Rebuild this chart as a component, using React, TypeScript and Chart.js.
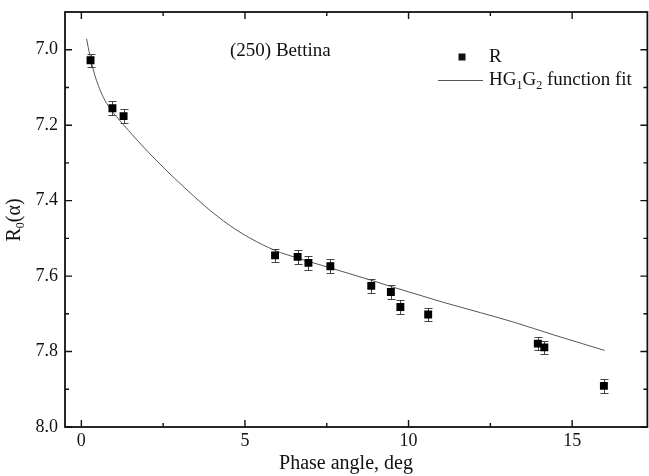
import React, { useEffect, useRef } from 'react';
import { Chart, registerables } from 'chart.js';

Chart.register(...registerables);

// Observed reduced magnitudes R0(alpha)
const obsPhase = [0.28, 0.95, 1.29, 5.92, 6.61, 6.94, 7.61, 8.86, 9.46, 9.75, 10.6, 13.95, 14.15, 15.97];
const obsR = [7.028, 7.155, 7.176, 7.545, 7.549, 7.565, 7.574, 7.626, 7.642, 7.682, 7.702, 7.779, 7.789, 7.891];
const obsErr = [0.017, 0.018, 0.018, 0.018, 0.018, 0.018, 0.018, 0.018, 0.018, 0.018, 0.018, 0.018, 0.018, 0.018];

// HG1G2 function fit curve
const fitPhase = [0.16, 0.26, 0.4, 0.52, 0.67, 0.88, 1.13, 1.44, 1.9, 2.55, 3.16, 3.77, 4.54, 5.15, 5.92, 6.6, 7.6, 8.82, 9.44, 10.2, 11.0, 12.2, 13.21, 14.44, 15.99];
const fitR = [6.971, 7.015, 7.064, 7.095, 7.126, 7.156, 7.183, 7.214, 7.258, 7.316, 7.366, 7.414, 7.466, 7.499, 7.532, 7.552, 7.578, 7.61, 7.627, 7.647, 7.668, 7.697, 7.722, 7.756, 7.797];

const xTicks = [0, 5, 10, 15];
const xMinorTicks = [2.5, 7.5, 12.5];
const yTicks = [7.0, 7.2, 7.4, 7.6, 7.8, 8.0];
const yMinorTicks = [7.1, 7.3, 7.5, 7.7, 7.9];

const FONT = '"Liberation Serif", "Times New Roman", serif';

function drawParts(ctx: CanvasRenderingContext2D, parts: [string, boolean][], x: number, y: number, size: number) {
  let cx = x;
  for (const [t, sub] of parts) {
    const fs = sub ? Math.round(size * 0.62) : size;
    ctx.font = `${fs}px ${FONT}`;
    ctx.fillText(t, cx, sub ? y + size * 0.3 : y);
    cx += ctx.measureText(t).width;
  }
}

const overlay = {
  id: 'overlay',
  beforeDatasetsDraw(chart: any) {
    const { ctx, scales } = chart;
    const x = scales.x, y = scales.y;
    ctx.save();
    ctx.strokeStyle = '#444';
    ctx.lineWidth = 1;
    obsPhase.forEach((p, i) => {
      const px = Math.round(x.getPixelForValue(p)) + 0.5;
      const y1 = Math.round(y.getPixelForValue(obsR[i] - obsErr[i])) + 0.5;
      const y2 = Math.round(y.getPixelForValue(obsR[i] + obsErr[i])) + 0.5;
      ctx.beginPath();
      ctx.moveTo(px, y1); ctx.lineTo(px, y2);
      ctx.moveTo(px - 4, y1); ctx.lineTo(px + 4, y1);
      ctx.moveTo(px - 4, y2); ctx.lineTo(px + 4, y2);
      ctx.stroke();
    });
    ctx.restore();
  },
  afterDraw(chart: any) {
    const { ctx, chartArea, scales } = chart;
    const x = scales.x, y = scales.y;
    const { left, right, top, bottom } = chartArea;
    ctx.save();
    ctx.strokeStyle = '#111';
    ctx.lineWidth = 1.8;
    ctx.strokeRect(left, top, right - left, bottom - top);
    ctx.lineWidth = 1.4;
    ctx.beginPath();
    const tick = (vals: number[], len: number) => {
      vals.forEach((v) => {
        const px = x.getPixelForValue(v);
        ctx.moveTo(px, bottom); ctx.lineTo(px, bottom - len);
        ctx.moveTo(px, top); ctx.lineTo(px, top + len);
      });
    };
    const ytick = (vals: number[], len: number) => {
      vals.forEach((v) => {
        const py = y.getPixelForValue(v);
        ctx.moveTo(left, py); ctx.lineTo(left + len, py);
        ctx.moveTo(right, py); ctx.lineTo(right - len, py);
      });
    };
    tick(xTicks, 7);
    tick(xMinorTicks, 4);
    ytick(yTicks, 7);
    ytick(yMinorTicks, 4);
    ctx.stroke();

    ctx.fillStyle = '#111';
    ctx.textBaseline = 'middle';
    ctx.textAlign = 'left';
    // annotation
    ctx.font = `19px ${FONT}`;
    ctx.fillText('(250) Bettina', 230, 51);

    // legend
    const sq = 7;
    ctx.fillRect(462 - sq / 2, 57 - sq / 2, sq, sq);
    ctx.font = `19px ${FONT}`;
    ctx.fillText('R', 489, 57);
    ctx.strokeStyle = '#555';
    ctx.lineWidth = 1;
    ctx.beginPath();
    ctx.moveTo(438, 80.5); ctx.lineTo(483, 80.5);
    ctx.stroke();
    drawParts(ctx, [['HG', false], ['1', true], ['G', false], ['2', true], [' function fit', false]], 489, 80, 19);

    // x title
    ctx.textAlign = 'center';
    ctx.font = `20px ${FONT}`;
    ctx.fillText('Phase angle, deg', 346, 464);

    // y title
    ctx.save();
    ctx.translate(15, 220);
    ctx.rotate(-Math.PI / 2);
    ctx.textAlign = 'left';
    const parts: [string, boolean][] = [['R', false], ['0', true], ['(α)', false]];
    let w = 0;
    for (const [t, sub] of parts) {
      ctx.font = `${sub ? Math.round(20 * 0.62) : 20}px ${FONT}`;
      w += ctx.measureText(t).width;
    }
    drawParts(ctx, parts, -w / 2, 0, 20);
    ctx.restore();

    ctx.restore();
  },
};

const noPad = (s: any) => {
  s.paddingTop = 0;
  s.paddingBottom = 0;
  s.paddingLeft = 0;
  s.paddingRight = 0;
};

export default function App() {
  const ref = useRef<HTMLCanvasElement>(null);
  useEffect(() => {
    document.body.style.margin = '0';
    const chart = new Chart(ref.current!, {
      type: 'scatter',
      data: {
        datasets: [
          {
            type: 'scatter',
            label: 'R',
            data: obsPhase.map((p, i) => ({ x: p, y: obsR[i] })),
            pointStyle: 'rect',
            pointRadius: 5.6,
            backgroundColor: '#000',
            borderColor: '#000',
            borderWidth: 0,
            order: 1,
          },
          {
            type: 'line',
            label: 'HG1G2 function fit',
            data: fitPhase.map((p, i) => ({ x: p, y: fitR[i] })),
            borderColor: '#555',
            borderWidth: 1,
            pointRadius: 0,
            fill: false,
            cubicInterpolationMode: 'monotone',
            order: 2,
          } as any,
        ],
      },
      options: {
        responsive: false,
        animation: false,
        layout: { padding: { left: 0, right: 0, top: 12, bottom: 0 } },
        plugins: { legend: { display: false }, tooltip: { enabled: false }, title: { display: false } },
        scales: {
          x: {
            type: 'linear',
            min: -0.5,
            max: 17.3,
            grid: { display: false, drawTicks: false },
            border: { display: false },
            afterBuildTicks: (s: any) => { s.ticks = xTicks.map((v) => ({ value: v })); },
            afterFit: (s: any) => { s.height = 49; noPad(s); },
            ticks: { color: '#111', font: { family: FONT, size: 18 }, padding: 3, callback: (v: any) => String(v) },
          },
          y: {
            type: 'linear',
            reverse: true,
            min: 6.9,
            max: 8.0,
            grid: { display: false, drawTicks: false },
            border: { display: false },
            afterBuildTicks: (s: any) => { s.ticks = yTicks.map((v) => ({ value: v })); },
            afterFit: (s: any) => { s.width = 65; noPad(s); },
            ticks: { color: '#111', font: { family: FONT, size: 18 }, padding: 7, callback: (v: any) => Number(v).toFixed(1) },
          },
        },
      },
      plugins: [overlay],
    });
    return () => chart.destroy();
  }, []);
  return (
    <div style={{ width: 649, height: 476, overflow: 'hidden' }}>
      <canvas ref={ref} width={653} height={476} style={{ display: 'block' }} />
    </div>
  );
}
